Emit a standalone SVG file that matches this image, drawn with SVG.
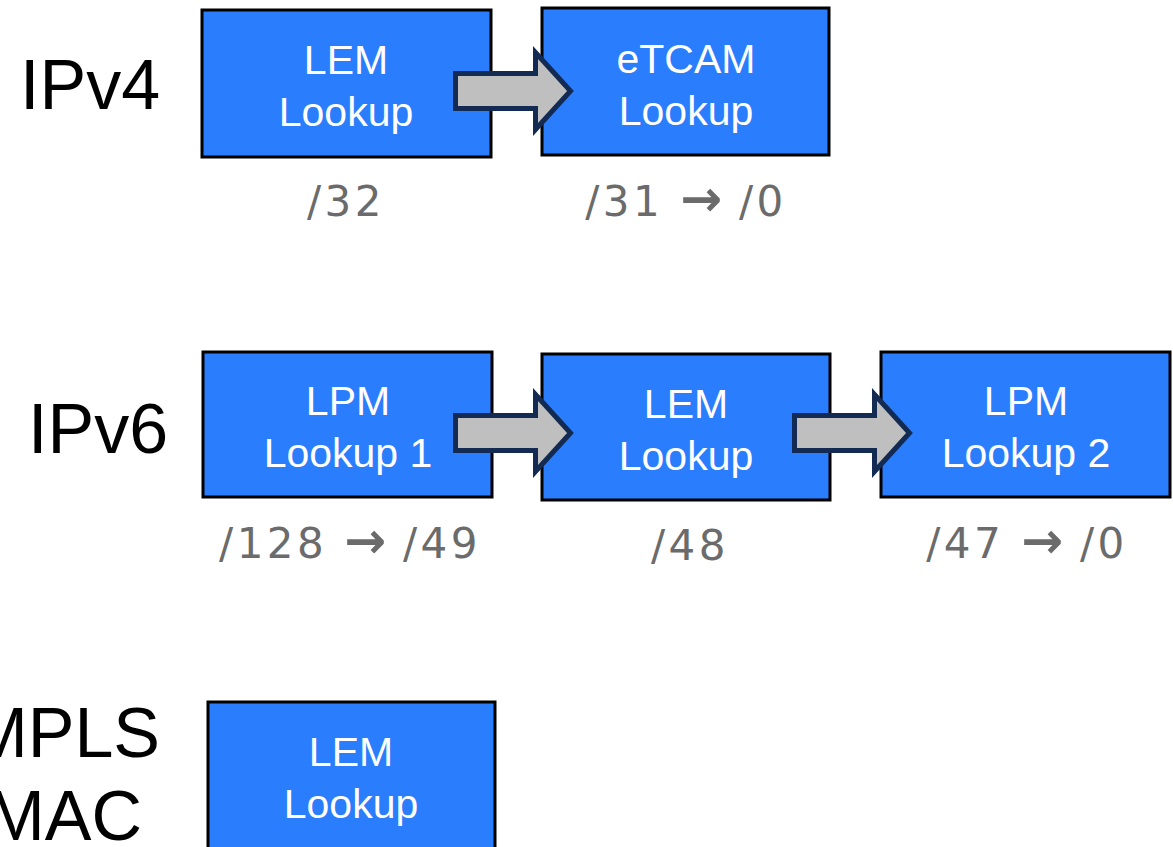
<svg xmlns="http://www.w3.org/2000/svg" width="1173" height="847" viewBox="0 0 1173 847">
<style>
.box{fill:#2a7dfc;stroke:#000;stroke-width:3}
.bt{font-family:"Liberation Sans",Arial,sans-serif;font-size:41px;fill:#fff;text-anchor:middle}
.lbl{font-family:"Liberation Sans",Arial,sans-serif;font-size:70px;fill:#000}
.sub{font-family:"DejaVu Sans",Verdana,sans-serif;font-size:42px;fill:#6b6b6b;text-anchor:middle;letter-spacing:3.5px}
.ar{font-weight:bold;font-size:50px;letter-spacing:0}
.arr{fill:#bfbfbf;stroke:#132a52;stroke-width:5;stroke-linejoin:miter}
</style>
<defs>
<path id="bigArrow" d="M0,0 H80 V-21 L115,17.5 L80,56 V35 H0 Z"/>
</defs>
<rect width="1173" height="847" fill="#fff"/>
<text class="lbl" x="20" y="109">IPv4</text>
<text class="lbl" x="28" y="453">IPv6</text>
<text class="lbl" x="160" y="757" text-anchor="end">MPLS</text>
<text class="lbl" x="142" y="840" text-anchor="end">MAC</text>
<g id="n1"><rect class="box" x="202" y="10" width="289" height="147"/><text class="bt" x="346" y="74">LEM</text><text class="bt" x="346" y="126">Lookup</text></g>
<g id="n2"><rect class="box" x="542" y="8" width="287" height="147"/><text class="bt" x="686" y="73">eTCAM</text><text class="bt" x="686" y="125">Lookup</text></g>
<g id="n3"><rect class="box" x="203" y="352" width="289" height="145"/><text class="bt" x="348" y="415">LPM</text><text class="bt" x="348" y="467">Lookup 1</text></g>
<g id="n4"><rect class="box" x="542" y="354" width="288" height="146"/><text class="bt" x="686" y="418">LEM</text><text class="bt" x="686" y="470">Lookup</text></g>
<g id="n5"><rect class="box" x="881" y="352" width="289" height="145"/><text class="bt" x="1026" y="415">LPM</text><text class="bt" x="1026" y="467">Lookup 2</text></g>
<g id="n6"><rect class="box" x="208" y="702" width="287" height="160"/><text class="bt" x="351" y="766">LEM</text><text class="bt" x="351" y="818">Lookup</text></g>
<g id="connectors">
<use href="#bigArrow" class="arr" transform="translate(455.5,73.5)"/>
<use href="#bigArrow" class="arr" transform="translate(455.5,415.5)"/>
<use href="#bigArrow" class="arr" transform="translate(794.5,415.5)"/>
</g>
<g id="labels">
<text class="sub" x="346" y="216">/32</text>
<text class="sub" x="686" y="216">/31 <tspan class="ar">→</tspan> /0</text>
<text class="sub" x="350" y="558">/128 <tspan class="ar">→</tspan> /49</text>
<text class="sub" x="690" y="560">/48</text>
<text class="sub" x="1027" y="558">/47 <tspan class="ar">→</tspan> /0</text>
</g>
</svg>
